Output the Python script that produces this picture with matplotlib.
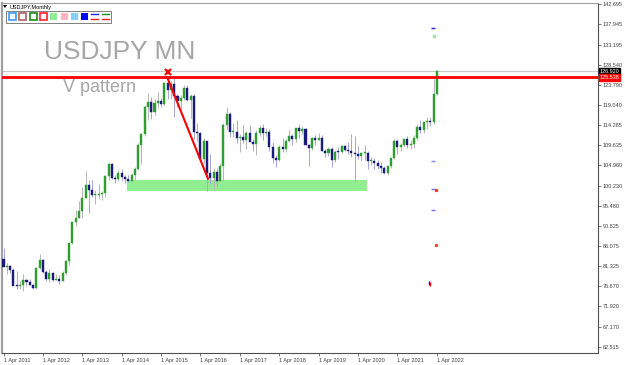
import matplotlib
matplotlib.use('Agg')
import matplotlib.pyplot as plt
from matplotlib.patches import Rectangle, Polygon

plt.rcParams['font.family'] = ['Liberation Sans', 'DejaVu Sans']

# monthly USDJPY candles, Apr 2011 .. Apr 2022
opens = [
    83.1, 81.2, 81.5, 80.5, 76.7, 76.6, 77.0, 78.2, 77.6,
    76.9, 76.2, 81.0, 82.8, 80.0, 78.3, 79.8, 78.1, 78.4, 77.9, 79.8, 82.5,
    86.7, 91.7, 92.6, 94.2, 97.4, 100.4, 99.1, 97.9, 98.1, 98.2, 98.4, 102.4,
    105.3, 102.0, 101.8, 103.2, 102.2, 101.8, 101.3, 102.8, 104.1, 109.7, 112.3, 118.6,
    119.8, 117.5, 119.6, 120.1, 119.4, 124.1, 122.5, 123.9, 121.2, 119.9, 120.6, 123.1,
    120.2, 121.1, 112.7, 112.6, 106.5, 110.7, 103.2, 102.1, 103.4, 101.3, 104.8, 114.5,
    117.0, 112.8, 112.8, 111.4, 111.5, 110.8, 112.4, 110.3, 110.0, 112.5, 113.6, 112.5,
    112.7, 109.2, 106.7, 106.3, 109.3, 108.8, 110.7, 111.9, 111.0, 113.7, 112.9, 113.5,
    109.7, 108.9, 111.4, 110.8, 111.4, 108.3, 107.8, 108.7, 106.3, 108.1, 108.0, 109.5,
    108.6, 108.4, 107.9, 107.5, 107.2, 107.8, 107.9, 105.9, 105.9, 105.5, 104.7, 104.3,
    103.2, 104.7, 106.6, 110.7, 109.3, 109.6, 111.1, 109.7, 110.0, 111.3, 114.0, 113.2,
    115.1, 115.1, 115.0, 121.7,
]
highs = [
    85.5, 82.2, 81.7, 81.0, 80.2, 77.9, 79.5, 78.3, 78.3,
    77.2, 81.2, 84.2, 83.0, 80.4, 80.6, 79.9, 79.6, 79.2, 80.2, 82.8, 86.6,
    91.3, 94.5, 96.7, 99.9, 103.7, 101.5, 101.5, 99.1, 100.6, 99.0, 102.6, 105.4,
    105.4, 102.8, 103.8, 104.1, 102.8, 102.8, 103.1, 104.5, 110.1, 112.5, 119.0, 121.8,
    121.0, 120.5, 122.0, 120.8, 124.5, 125.86, 124.6, 125.3, 121.7, 121.5, 123.8, 123.7,
    121.7, 121.7, 114.9, 112.7, 111.4, 110.5, 107.5, 104.3, 104.3, 105.5, 114.8, 118.7,
    117.5, 114.9, 115.5, 112.2, 114.4, 112.9, 114.5, 111.0, 113.2, 114.4, 114.7, 113.7,
    113.4, 110.5, 107.3, 109.6, 111.4, 111.0, 113.2, 112.2, 113.7, 114.6, 114.2, 113.8,
    109.9, 111.5, 112.1, 112.4, 112.0, 108.8, 109.3, 109.3, 108.5, 109.3, 109.7, 109.7,
    110.3, 112.2, 111.7, 109.4, 108.1, 109.8, 108.2, 107.0, 106.6, 106.1, 105.7, 104.8,
    104.9, 106.7, 111.0, 111.0, 110.2, 111.1, 111.7, 110.8, 112.1, 114.7, 115.5, 115.2,
    116.35, 116.3, 125.1, 126.95,
]
lows = [
    81.3, 79.6, 79.7, 76.9, 75.9, 75.9, 75.6, 76.6, 76.9,
    76.0, 76.1, 80.6, 79.8, 78.0, 77.7, 77.9, 78.1, 77.1, 77.8, 79.4, 81.7,
    86.5, 90.8, 92.6, 92.6, 97.2, 93.8, 97.6, 95.8, 97.1, 96.9, 97.6, 101.6,
    101.8, 100.8, 101.2, 101.4, 100.8, 101.1, 101.1, 101.5, 103.8, 105.2, 111.9, 115.6,
    115.9, 116.7, 118.3, 118.5, 118.9, 120.4, 120.4, 116.2, 118.6, 118.1, 120.3, 119.9,
    116.0, 111.0, 110.7, 106.3, 105.5, 99.0, 100.6, 99.5, 100.1, 101.2, 101.2, 113.1,
    111.6, 111.6, 110.1, 108.1, 110.2, 108.8, 110.6, 108.3, 107.3, 111.7, 110.8, 111.9,
    108.3, 105.6, 104.6, 105.9, 108.1, 108.1, 110.3, 109.8, 110.4, 111.4, 112.3, 109.6,
    104.9, 108.5, 109.7, 110.8, 108.3, 106.8, 107.2, 104.5, 105.7, 106.5, 107.9, 108.4,
    107.7, 107.0, 101.2, 106.4, 106.0, 106.1, 104.2, 105.1, 104.0, 104.0, 103.2, 102.9,
    102.6, 104.4, 106.4, 107.5, 108.3, 109.2, 109.1, 108.7, 109.1, 110.8, 112.5, 112.5,
    113.5, 114.1, 114.7, 121.3,
]
closes = [
    81.2, 81.5, 80.5, 76.7, 76.6, 77.0, 78.2, 77.6, 76.9,
    76.2, 81.0, 82.8, 80.0, 78.3, 79.8, 78.1, 78.4, 77.9, 79.8, 82.5, 86.7,
    91.7, 92.6, 94.2, 97.4, 100.4, 99.1, 97.9, 98.1, 98.2, 98.4, 102.4, 105.3,
    102.0, 101.8, 103.2, 102.2, 101.8, 101.3, 102.8, 104.1, 109.7, 112.3, 118.6, 119.8,
    117.5, 119.6, 120.1, 119.4, 124.1, 122.5, 123.9, 121.2, 119.9, 120.6, 123.1, 120.2,
    121.1, 112.7, 112.6, 106.5, 110.7, 103.2, 102.1, 103.4, 101.3, 104.8, 114.5, 117.0,
    112.8, 112.8, 111.4, 111.5, 110.8, 112.4, 110.3, 110.0, 112.5, 113.6, 112.5, 112.7,
    109.2, 106.7, 106.3, 109.3, 108.8, 110.7, 111.9, 111.0, 113.7, 112.9, 113.5, 109.7,
    108.9, 111.4, 110.8, 111.4, 108.3, 107.8, 108.7, 106.3, 108.1, 108.0, 109.5, 108.6,
    108.4, 107.9, 107.5, 107.2, 107.8, 107.9, 105.9, 105.9, 105.5, 104.7, 104.3, 103.2,
    104.7, 106.6, 110.7, 109.3, 109.6, 111.1, 109.7, 110.0, 111.3, 114.0, 113.2, 115.1,
    115.1, 115.0, 121.7, 126.92,
]

year_labels = ['1 Apr %d' % y for y in range(2011, 2023)]
price_ticks = [142.695, 137.945, 133.195, 128.540, 123.790, 119.040, 114.285, 109.635, 104.960,
               100.230, 95.480, 90.825, 86.075, 81.325, 76.670, 71.920, 67.170, 62.515]

bid_price = 126.920
level_price = 125.538
# V pattern: top (Jun 2015) -> bottom (Jun 2016)
v_idx = [50, 62.3]
v_price = [125.3, 101.8]
top_mark = (50, 126.7)
# support zone
zone_idx = (37.6, 110.6)
zone_price = (98.9, 101.5)

# leftover objects near the last bar
obj_idx = [130.8, 131.0, 130.8, 130.8, 131.6, 130.8, 131.6, 129.6, 129.8]
obj_price = [136.97, 135.3, 106.07, 99.3, 99.1, 94.6, 86.4, 77.5, 77.1]
obj_color = ['#2020e0', '#a0e0a0', '#8080ff', '#7070ff', '#ff3030', '#7070ff', '#ff4040', '#0000ff', '#ff0000']
obj_marker = ['_', 's', '_', '_', 's', '_', 's', '|', '|']
obj_size = [3, 1.5, 3, 3, 1.3, 3, 1.3, 3, 3]

n = len(closes)
idx = list(range(n))

fig = plt.figure(figsize=(6.25, 3.65), dpi=100)
ax = fig.add_axes([2 / 625, 12 / 365, 596 / 625, 350 / 365])

ax.add_patch(Rectangle((zone_idx[0], zone_price[0]), zone_idx[1] - zone_idx[0],
                       zone_price[1] - zone_price[0], facecolor='#90ee90', edgecolor='none', zorder=1))

bull = [c >= o for o, c in zip(opens, closes)]
wick_col = ['#b8b8b8' if b else '#a8a8d8' for b in bull]
ax.vlines(idx, lows, highs, colors=wick_col, linewidth=0.75, zorder=2)
body_bottom = [min(o, c) for o, c in zip(opens, closes)]
body_height = [max(abs(c - o), 0.25) for o, c in zip(opens, closes)]
body_col = ['#2f9e2f' if b else '#1a1a7a' for b in bull]
ax.bar(idx, body_height, bottom=body_bottom, width=0.62, color=body_col,
       edgecolor=body_col, linewidth=0.3, zorder=3)

ax.axhline(bid_price, color='#c8c8c8', linewidth=0.8, zorder=1)
ax.axhline(level_price, color='#ff0000', linewidth=2.0, zorder=5)
ax.plot(v_idx, v_price, color='#ff0000', linewidth=1.5, zorder=5)
ax.plot([top_mark[0]], [top_mark[1]], marker='x', color='#ff0000', markersize=5, mew=1.6, zorder=6)

for xi, yi, c, m, s in zip(obj_idx, obj_price, obj_color, obj_marker, obj_size):
    ax.plot([xi], [yi], marker=m, color=c, markersize=s, mew=1.0, linestyle='none', zorder=6)

ax.set_xlim(-0.46, 181.1)
ax.set_ylim(61.04, 142.93)

ax.set_xticks(list(range(0, n, 12)))
ax.set_xticklabels(year_labels, ha='left')
ax.yaxis.tick_right()
ax.set_yticks(price_ticks)
ax.set_yticklabels(['%.3f' % p for p in price_ticks])
ax.tick_params(axis='both', labelsize=4, length=2, width=0.5, colors='#404040', pad=1.5)

for s in ['left', 'top']:
    ax.spines[s].set_color('#a0a0a0')
for s in ['right', 'bottom']:
    ax.spines[s].set_color('#505050')
    ax.spines[s].set_linewidth(0.8)
ax.spines['left'].set_linewidth(1.6)

# price tags on the right scale
ytr = ax.get_yaxis_transform()
ax.text(1.003, bid_price, '%.3f' % bid_price, transform=ytr, fontsize=4, color='white', va='center',
        ha='left', bbox=dict(boxstyle='square,pad=0.15', facecolor='black', edgecolor='black'), zorder=10,
        clip_on=False)
ax.text(1.003, level_price, '%.3f' % level_price, transform=ytr, fontsize=4, color='white', va='center',
        ha='left', bbox=dict(boxstyle='square,pad=0.15', facecolor='#ff0000', edgecolor='#ff0000'), zorder=10,
        clip_on=False)

# overlay in pixel coordinates for the chart annotations
ov = fig.add_axes([0, 0, 1, 1], facecolor='none')
ov.set_xlim(0, 625)
ov.set_ylim(365, 0)
ov.axis('off')

ov.text(44, 59, 'USDJPY MN', fontsize=19, color='#a6a6a6', va='baseline', ha='left')
ov.text(63, 92.5, 'V pattern', fontsize=13, color='#a6a6a6', va='baseline', ha='left')

ov.add_patch(Polygon([(3, 5), (7, 5), (5, 8)], closed=True, facecolor='black', edgecolor='none'))
ov.text(10, 7, 'USDJPY,Monthly', fontsize=4, color='black', va='center', ha='left')

ov.add_patch(Rectangle((6, 11), 104.7, 11.7, facecolor='white', edgecolor='#808080', linewidth=0.7))
hollow = ['#3d9bff', '#b06060', '#1a8a1a', '#ff2020']
filled = ['#90ee90', '#ffb6c1', '#87cefa', '#0000ff']
x = 9
for c in hollow:
    ov.add_patch(Rectangle((x, 12.8), 7, 7, facecolor='white', edgecolor=c, linewidth=1.2))
    x += 10.3
for c in filled:
    ov.add_patch(Rectangle((x, 12.8), 7, 7, facecolor=c, edgecolor='none'))
    x += 10.3
for top_c in ['#2020ff', '#1a8a1a']:
    ov.plot([x, x + 7], [14.3, 14.3], color=top_c, linewidth=1)
    ov.plot([x, x + 7], [18.8, 18.8], color='#ff2020', linewidth=1)
    x += 10.3

fig.savefig('out.png', dpi=100)
